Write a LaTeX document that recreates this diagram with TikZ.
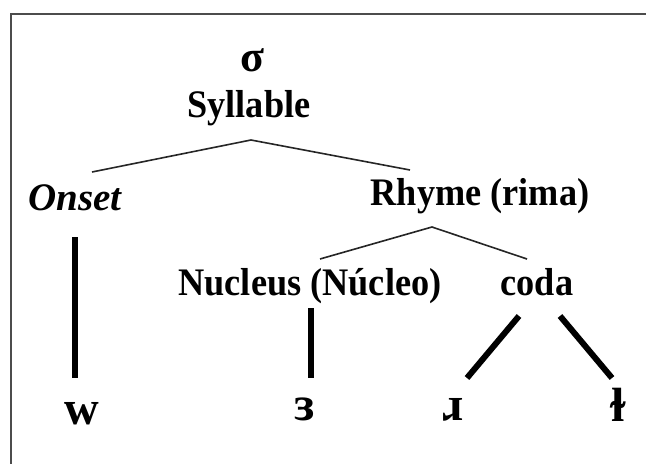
\documentclass[tikz,border=0pt]{standalone}
\usepackage{fontspec}
\setmainfont{Liberation Serif}
\newfontfamily\lblfont[FakeStretch=0.93]{Liberation Serif}
\begin{document}
\begin{tikzpicture}[x=1pt,y=-1pt,
  lbl/.style={font=\lblfont\fontsize{39}{44}\selectfont\bfseries, inner sep=0pt, anchor=base},
  lbli/.style={lbl, font=\fontsize{39}{44}\selectfont\bfseries\itshape},
  sig/.style={lbl, font=\fontsize{44}{48}\selectfont\bfseries},
  ph/.style={font=\fontsize{48}{52}\selectfont\bfseries, inner sep=0pt, anchor=base},
  thinline/.style={line width=1.6pt, black!85},
  thickline/.style={line width=6pt, black},
  frameline/.style={line width=2.5pt, black!70}]
\useasboundingbox (0,0) rectangle (646,464);
% frame
\draw[frameline] (646,14) -- (11,14) -- (11,464);
% labels
\node[sig]  (sigma) at (252,71)  {σ};
\node[lbl]  (syl)   at (249,117) {Syllable};
\node[lbli] (onset) at (75,210)  {Onset};
\node[lbl]  (rhyme) at (480,205) {Rhyme (rima)};
\node[lbl]  (nuc)   at (310,295) {Nucleus (Núcleo)};
\node[lbl]  (coda)  at (537,295) {coda};
\node[ph]   (w)     at (82,424)  {w};
\node[ph]   (er)    at (305,420) {ɜ};
\node[ph]   (rr)    at (453,420) {ɹ};
\node[ph]   (ll)    at (618,421) {ɫ};
% branch points
\coordinate (sylB)   at (251,140);
\coordinate (onsetT) at (92,172);
\coordinate (rhymeT) at (410,170);
\coordinate (rhymeB) at (432,227);
\coordinate (nucT)   at (320,259);
\coordinate (codaT)  at (527,259);
\coordinate (onsetB) at (75,237);
\coordinate (wT)     at (75,378);
\coordinate (nucB)   at (311,308);
\coordinate (erT)    at (311,378);
\coordinate (codaBL) at (519,316);
\coordinate (rrT)    at (467,378);
\coordinate (codaBR) at (560,316);
\coordinate (llT)    at (612,378);
% thin branches
\draw[thinline] (onsetT) -- (sylB) -- (rhymeT);
\draw[thinline] (nucT) -- (rhymeB) -- (codaT);
% thick association lines
\draw[thickline] (onsetB) -- (wT);
\draw[thickline] (nucB) -- (erT);
\draw[thickline] (codaBL) -- (rrT);
\draw[thickline] (codaBR) -- (llT);
\end{tikzpicture}
\end{document}
